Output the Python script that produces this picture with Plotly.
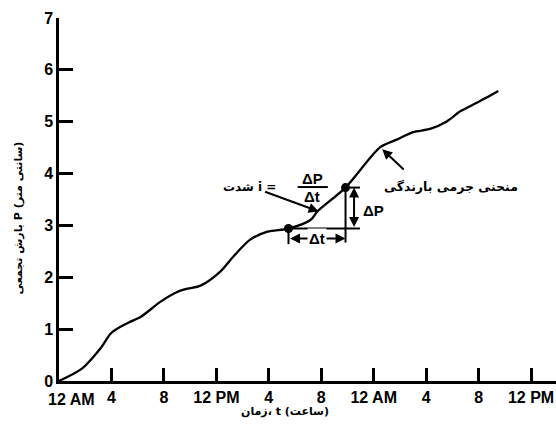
import plotly.graph_objects as go

# cumulative rainfall curve (hours from 12 AM, cm)
time_h = [0, 1.8, 3.2, 4.0, 5.25, 6.25, 7.75, 9.05, 9.8, 10.8, 12.3, 13.3, 14.6, 15.9,
          17.5, 19.2, 19.7, 21.85, 24.5, 25.8, 27.0, 28.3, 29.6, 30.6, 31.35, 32.65, 33.5]
cum_P = [0, 0.25, 0.64, 0.93, 1.12, 1.24, 1.53, 1.72, 1.78, 1.84, 2.11, 2.40, 2.73, 2.88,
         2.94, 3.11, 3.27, 3.73, 4.51, 4.66, 4.80, 4.86, 5.01, 5.20, 5.30, 5.47, 5.59]

# the two points used for the slope (intensity)
slope_t = [17.5, 21.85]
slope_P = [2.94, 3.73]

tick_hours = [0, 4, 8, 12, 16, 20, 24, 28, 32, 36]
tick_labels = ["12 AM", "4", "8", "12 PM", "4", "8", "12 AM", "4", "8", "12 PM"]
y_ticks = [0, 1, 2, 3, 4, 5, 6, 7]

AR = "DejaVu Sans"
LAT = "Liberation Sans"

fig = go.Figure()
fig.add_trace(go.Scatter(x=time_h, y=cum_P, mode="lines",
                         line=dict(color="black", width=2.3, shape="spline", smoothing=0.8),
                         showlegend=False, hoverinfo="skip"))
fig.add_trace(go.Scatter(x=slope_t, y=slope_P, mode="markers",
                         marker=dict(color="black", size=9), showlegend=False))

t0, t1 = slope_t
p0, p1 = slope_P
line = dict(color="black", width=2)
# horizontal from first point, vertical at second point
fig.add_shape(type="line", x0=t0, y0=p0, x1=t1 + 1.1, y1=p0, line=line)
fig.add_shape(type="line", x0=t1, y0=p1, x1=t1, y1=p0 - 0.27, line=line)
fig.add_shape(type="line", x0=t1, y0=p1, x1=t1 + 1.1, y1=p1, line=line)
fig.add_shape(type="line", x0=t0, y0=p0 - 0.05, x1=t0, y1=p0 - 0.3, line=line)

ann = []
# Δt double arrow
ann.append(dict(x=t1, y=p0 - 0.19, ax=t0, ay=p0 - 0.19, axref="x", ayref="y", xref="x", yref="y",
                text="", showarrow=True, arrowhead=2, arrowside="end+start", arrowsize=1,
                arrowwidth=2, arrowcolor="black", standoff=0, startstandoff=0))
ann.append(dict(x=(t0 + t1) / 2, y=p0 - 0.19, xref="x", yref="y", text="<b>Δt</b>",
                showarrow=False, bgcolor="white", font=dict(family=LAT, size=15, color="black")))
# ΔP double arrow
ann.append(dict(x=t1 + 0.65, y=p1, ax=t1 + 0.65, ay=p0, axref="x", ayref="y", xref="x", yref="y",
                text="", showarrow=True, arrowhead=2, arrowside="end+start", arrowsize=1,
                arrowwidth=2, arrowcolor="black", standoff=0, startstandoff=0))
ann.append(dict(x=t1 + 1.15, y=(p0 + p1) / 2 - 0.05, xref="x", yref="y", text="<b>ΔP</b>",
                xanchor="left", showarrow=False, font=dict(family=LAT, size=15, color="black")))
# intensity label
ann.append(dict(x=19.8, y=3.27, ax=15.6, ay=3.66, axref="x", ayref="y", xref="x", yref="y",
                text="", showarrow=True, arrowhead=2, arrowsize=1, arrowwidth=2,
                arrowcolor="black", standoff=0))
ann.append(dict(x=16.7, y=3.75, xref="x", yref="y", text="<b>شدت i =</b>", xanchor="right",
                showarrow=False, font=dict(family=AR, size=12, color="black")))
ann.append(dict(x=19.33, y=3.90, xref="x", yref="y", text="<b>ΔP</b>", showarrow=False,
                font=dict(family=LAT, size=15, color="black")))
ann.append(dict(x=19.33, y=3.56, xref="x", yref="y", text="<b>Δt</b>", showarrow=False,
                font=dict(family=LAT, size=15, color="black")))
fig.add_shape(type="line", x0=18.2, y0=3.74, x1=20.5, y1=3.74, line=dict(color="black", width=2))
# mass curve label
ann.append(dict(x=24.65, y=4.47, ax=26.4, ay=4.05, axref="x", ayref="y", xref="x", yref="y",
                text="", showarrow=True, arrowhead=2, arrowsize=1, arrowwidth=2,
                arrowcolor="black", standoff=0))
ann.append(dict(x=29.9, y=3.75, xref="x", yref="y", text="<b>منحنی جرمی بارندگی</b>",
                showarrow=False, font=dict(family=AR, size=12.5, color="black")))
# first x tick label (offset to the right like the original)
ann.append(dict(x=0, y=-0.022, xref="x", yref="paper", text="<b>" + tick_labels[0] + "</b>",
                xanchor="left", yanchor="top", xshift=-13, showarrow=False,
                font=dict(family=LAT, size=16, color="black")))
# axis titles
ann.append(dict(x=17.2, y=-0.085, xref="x", yref="paper", text="<b>زمان، t (ساعت)</b>",
                showarrow=False, yanchor="middle", font=dict(family=AR, size=11, color="black")))
ann.append(dict(x=-0.098, y=3.15, xref="paper", yref="y", text="<b>بارش تجمعی P (سانتی متر)</b>",
                textangle=-90, showarrow=False, font=dict(family=AR, size=11, color="black")))

fig.update_layout(
    width=556, height=432,
    margin=dict(l=59, r=0, t=18, b=51),
    plot_bgcolor="white", paper_bgcolor="white",
    annotations=ann,
    showlegend=False,
    xaxis=dict(range=[0, 37.9], tickvals=tick_hours, ticktext=[""] + tick_labels[1:],
               showgrid=False, zeroline=False, showline=True, linecolor="black", linewidth=2.5,
               ticks="inside", ticklen=13, tickwidth=2.5, tickcolor="black",
               tickfont=dict(family=LAT, size=16, color="black", weight="bold")),
    yaxis=dict(range=[0, 7], tickvals=y_ticks, showgrid=False, zeroline=False, showline=True,
               linecolor="black", linewidth=2.5, ticks="inside", ticklen=14, tickwidth=2.5,
               tickcolor="black",
               tickfont=dict(family=LAT, size=16, color="black", weight="bold")),
)

fig.write_html("out.html")
